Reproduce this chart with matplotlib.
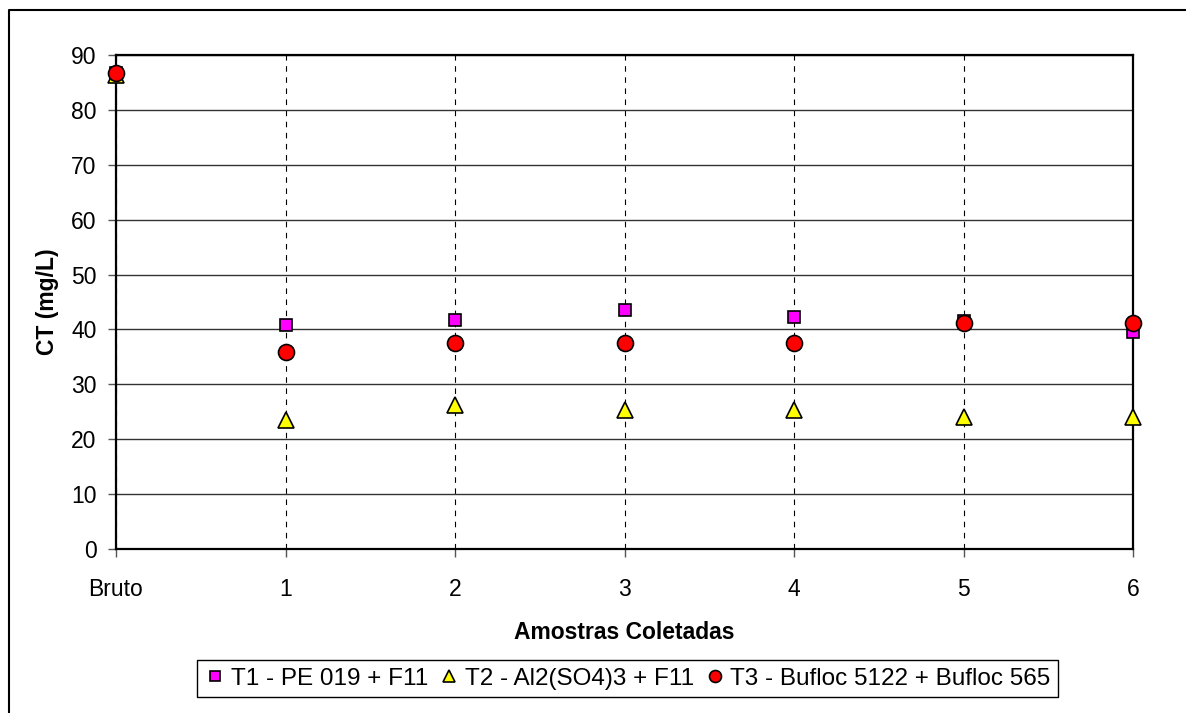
import matplotlib
matplotlib.use("Agg")
import matplotlib.pyplot as plt
from matplotlib.lines import Line2D

plt.rcParams["font.family"] = ["Liberation Sans", "DejaVu Sans"]

categories = ["Bruto", "1", "2", "3", "4", "5", "6"]
t1_values = [86.7, 40.9, 41.7, 43.5, 42.3, 41.6, 39.6]
t2_values = [86.3, 23.5, 26.2, 25.3, 25.3, 24.1, 24.1]
t3_values = [86.7, 35.9, 37.5, 37.5, 37.5, 41.1, 41.1]

series = [
    ("T1 - PE 019 + F11", t1_values, "s", "#ff00ff", 9),
    ("T2 - Al2(SO4)3 + F11", t2_values, "^", "#ffff00", 12),
    ("T3 - Bufloc 5122 + Bufloc 565", t3_values, "o", "#ff0000", 11.5),
]

fig = plt.figure(figsize=(11.86, 7.13), dpi=100)
ax = fig.add_axes([116 / 1186, 164 / 713, 1017 / 1186, 494 / 713])

x = list(range(len(categories)))
for label, vals, marker, color, ms in series:
    ax.plot(x, vals, linestyle="none", marker=marker, markersize=ms,
            markerfacecolor=color, markeredgecolor="black", markeredgewidth=1.2,
            label=label, clip_on=False, zorder=5)

ax.set_xlim(0, len(categories) - 1)
ax.set_ylim(0, 90)
ax.set_xticks(x)
ax.set_xticklabels(categories)
ax.set_yticks(range(0, 91, 10))

ax.yaxis.grid(True, color="#333333", linewidth=1.0, linestyle="-")
ax.xaxis.grid(True, color="black", linewidth=0.8, linestyle=(0, (5, 5)))
ax.set_axisbelow(True)

for sp in ax.spines.values():
    sp.set_linewidth(1.6)
    sp.set_color("black")

ax.tick_params(axis="both", labelsize=16.5, length=6, width=1, color="#555555",
               direction="out")
ax.tick_params(axis="y", pad=8)
ax.tick_params(axis="x", pad=15)

ax.set_xlabel("Amostras Coletadas", fontsize=16.5, fontweight="bold", labelpad=14)
ax.set_ylabel("CT (mg/L)", fontsize=16.5, fontweight="bold", labelpad=9)

leg = ax.legend(loc="center", bbox_to_anchor=(627.5 / 1186, 1 - 678.5 / 713),
                bbox_transform=fig.transFigure, ncol=3, fontsize=17.5,
                frameon=True, fancybox=False, framealpha=1, edgecolor="black",
                markerscale=0.75, handlelength=0.9, handletextpad=0.2,
                columnspacing=0.4, borderpad=0.3, borderaxespad=0)
leg.get_frame().set_linewidth(1.0)

# outer chart-area border (left and top visible)
fig.add_artist(Line2D([9 / 1186, 9 / 1186, 1.0], [0.0, 1 - 10 / 713, 1 - 10 / 713],
                      transform=fig.transFigure, color="black", linewidth=1.5))

fig.savefig("out.png", dpi=100)
